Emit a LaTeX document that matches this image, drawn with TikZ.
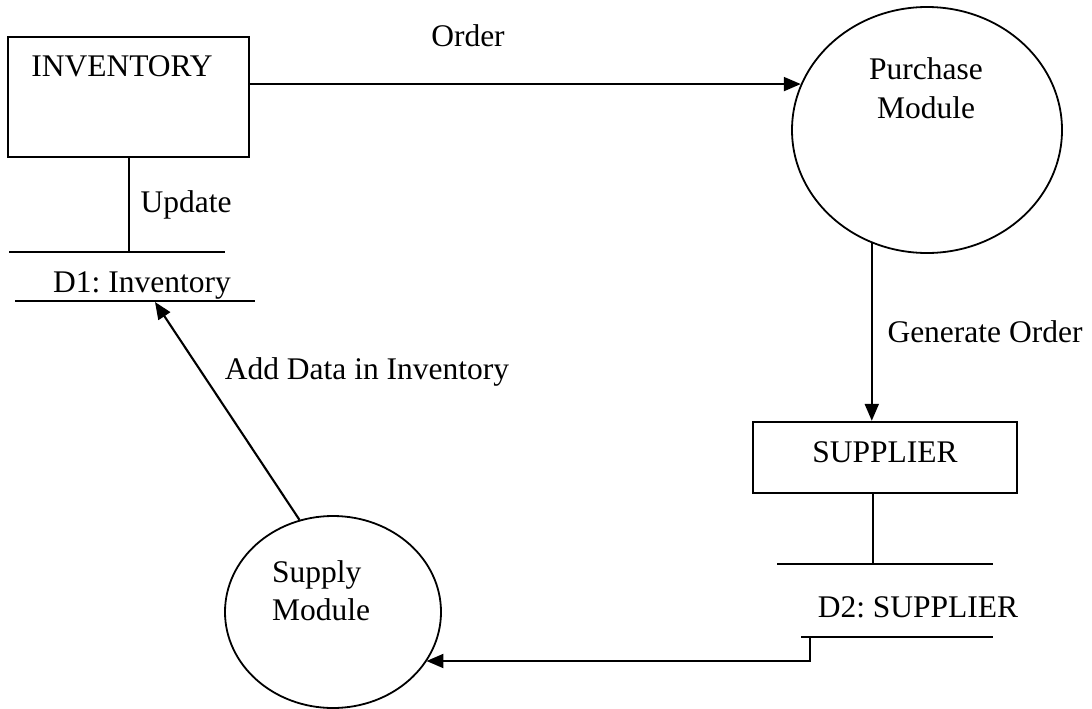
\documentclass[tikz,border=0pt]{standalone}
\usepackage{fontspec}
\setmainfont{Liberation Serif}
\usetikzlibrary{shapes.geometric,arrows.meta}
\frenchspacing
\tikzset{
  every picture/.style={x=1pt,y=-1pt},
  ln/.style={line width=2.1pt,draw=black},
  arr/.style={ln,-{Triangle[length=17pt,width=14pt]}},
  txt/.style={font=\fontsize{31.5pt}{36pt}\selectfont,inner sep=0pt,anchor=base},
  entity/.style={ln,line width=2.4pt,rectangle,inner sep=0pt},
  proc/.style={ln,line width=1.8pt,ellipse,inner sep=0pt}
}
\begin{document}
\begin{tikzpicture}
\useasboundingbox (0,0) rectangle (1092,709);
% entities and processes
\node[entity,minimum width=241pt,minimum height=120pt] (inv) at (128.5,97) {};
\node[entity,minimum width=264pt,minimum height=71pt] (sup) at (885,457.5) {};
\node[proc,minimum width=270pt,minimum height=246pt] (pur) at (927,130) {};
\node[proc,minimum width=216pt,minimum height=192pt] (sm) at (333,612) {};
% texts
\node[txt] (tinv) at (122,77) {INVENTORY};
\node[txt] (tsup) at (885,462) {SUPPLIER};
\node[txt] (tpur1) at (926,80) {Purchase};
\node[txt] (tpur2) at (926,118) {Module};
\node[txt,anchor=base west] (tsm1) at (272,582) {Supply};
\node[txt,anchor=base west] (tsm2) at (272,620) {Module};
\node[txt] (td1) at (142,292) {D1: Inventory};
\node[txt] (td2) at (918,617) {D2: SUPPLIER};
\node[txt] (lorder) at (468,47) {Order};
\node[txt] (lupd) at (186,212) {Update};
\node[txt] (lgen) at (985,342) {Generate Order};
\node[txt] (ladd) at (367,379) {Add Data in Inventory};
% data stores
\coordinate (d1tl) at (9,252);
\coordinate (d1tr) at (225,252);
\coordinate (d1bl) at (15,301);
\coordinate (d1br) at (255,301);
\coordinate (d2tl) at (777,564);
\coordinate (d2tr) at (993,564);
\coordinate (d2bl) at (801,637);
\coordinate (d2br) at (993,637);
\draw[ln] (d1tl) -- (d1tr);
\draw[ln] (d1bl) -- (d1br);
\draw[ln] (d2tl) -- (d2tr);
\draw[ln] (d2bl) -- (d2br);
% connectors
\draw[arr] (inv.east |- pur.160.7) -- (pur.160.7);
\draw[ln] (inv.south -| 129,0) -- (129,252);
\draw[arr] (pur.244.5) -- (sup.north -| pur.244.5);
\draw[ln] (sup.south -| 873,0) -- (873,564);
\coordinate (d2a) at (810,637);
\coordinate (d2b) at (810,661);
\draw[arr] (d2a) -- (d2b) -- (sm.332.2 |- d2b);
\coordinate (d1hit) at (155,302);
\draw[arr] (sm.110.8) -- (d1hit);
\end{tikzpicture}
\end{document}
